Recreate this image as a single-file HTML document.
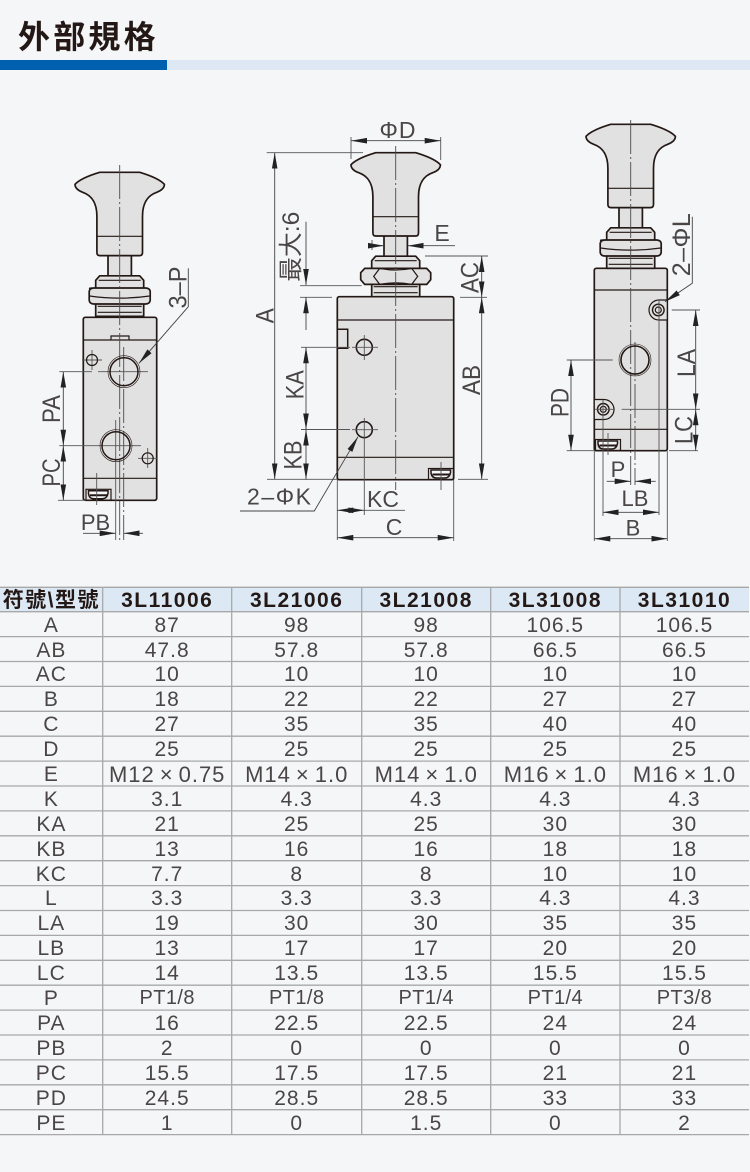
<!DOCTYPE html>
<html><head><meta charset="utf-8">
<style>
html,body{margin:0;padding:0;background:#f5f6f8}
#p{position:relative;width:750px;height:1172px;overflow:hidden;background:#f5f6f8;font-family:"Liberation Sans","Noto Sans CJK TC",sans-serif}
#t{position:absolute;left:18px;top:14px;font:700 32px/46px "Liberation Sans","Noto Sans CJK TC",sans-serif;letter-spacing:3.2px;color:#231815}
#b1{position:absolute;left:0;top:60px;width:166.5px;height:10px;background:#0060b0}
#b2{position:absolute;left:166.5px;top:60px;width:583.5px;height:10px;background:#dde8f4}
#hd{position:absolute;left:0;top:587.3px;width:749px;height:24.4px;background:#dce9f5}
#g{position:absolute;left:0;top:588.3px;width:749px;display:grid;grid-template-columns:102.7px 129px 130px 129px 129.3px 129px;grid-template-rows:24.4px repeat(21,24.9px);color:#4a4646;font-size:21px;letter-spacing:1px}
#g div{text-align:center;line-height:25px;white-space:nowrap}
#g .h{font-weight:700;font-size:21px;letter-spacing:1.5px;color:#231815;line-height:25px}
#g .c{font-size:20px;letter-spacing:.4px}
#g .m{font-size:22px;letter-spacing:1px}
#g i{font-style:normal;margin:0 5px}
svg{position:absolute;left:0;top:0}
svg text{font-family:"Liberation Sans","Noto Sans CJK TC",sans-serif;fill:#4a4646}
.o{fill:#e1e1e1;stroke:#231815;stroke-width:1.7;stroke-linejoin:round}
.k{fill:none;stroke:#231815;stroke-width:1.2}
.d{fill:none;stroke:#555;stroke-width:.9}
.e{fill:none;stroke:#4a4a4a;stroke-width:.9;stroke-dasharray:34 3 2 3}
.a{fill:none;stroke:#444;stroke-width:.9;marker-end:url(#ar);marker-start:url(#ar)}
.a1{fill:none;stroke:#444;stroke-width:.9;marker-end:url(#ar)}
</style></head><body><div id="p">
<div id="t">外部規格</div><div id="b1"></div><div id="b2"></div><div id="hd"></div>
<svg width="750" height="1172" viewBox="0 0 750 1172">
<defs>
<marker id="ar" markerUnits="userSpaceOnUse" markerWidth="17" markerHeight="8" refX="16" refY="4" orient="auto-start-reverse"><path d="M0,1.2L16,4L0,6.8Z" fill="#222"/></marker>
<g id="knob">
<rect class="o" x="-11.7" y="83" width="23.4" height="21"/>
<path class="o" d="M-20,0L20,0C30,3 40,7 44.7,12C44.7,16 41,18.500 37,20C30,22.500 22.800,28 22.800,44L22.800,80Q22.800,83.300 20,83.300L-20,83.300Q-22.800,83.300 -22.800,80L-22.800,44C-22.800,28 -30,22.500 -37,20C-41,18.500 -44.700,16 -44.700,12C-40,7 -30,3 -20,0Z"/>
<path class="k" d="M-22.8,64H22.8"/>
<path class="o" d="M-24,144V108L-20,103.5H20L24,108V144Z"/>
<path class="k" d="M-21,108H21M-22,134H22M-22,140H22"/>
</g>
<g id="nut"><path class="o" d="M-30,116Q-27,115.7 -26,115.7H26Q30,116 30.5,119V128Q30,131.7 26,131.7H-26Q-30,131.7 -30.5,128V119Q-30,116 -26,115.7Z"/><path class="k" d="M-30,123.7Q0,128 30,123.7" stroke-width=".6"/></g>
<g id="nut2"><path class="o" d="M-31,115.7H31L35,120V127L31,131.7H-31L-35,127V120Z"/><path class="k" d="M-16,115.7L-22,123.7L-16,131.7M16,115.7L22,123.7L16,131.7M-16,115.7Q0,119 16,115.7M-16,131.7Q0,128.5 16,131.7"/></g>
<g id="plug"><rect class="k" x="0" y="0" width="25" height="11" stroke-width="1.4"/><path d="M2.5,1.5H22V4Q21,9.5 16,9.5H8Q3,9.5 2.5,4Z" fill="#f5f6f8" stroke="#231815" stroke-width="1.5"/><path d="M4,5H21V7H4Z" fill="#231815"/></g>
</defs>

<!-- table lines -->
<path fill="none" stroke="#a8a8a8" stroke-width="1.3" d="M0 587.3H749M0 611.7H749M0 636.6H749M0 661.5H749M0 686.4H749M0 711.3H749M0 736.2H749M0 761.1H749M0 786H749M0 810.9H749M0 835.8H749M0 860.7H749M0 885.6H749M0 910.5H749M0 935.4H749M0 960.3H749M0 985.2H749M0 1010.1H749M0 1035H749M0 1059.9H749M0 1084.8H749M0 1109.7H749M0 1134.6H749M102.7 587V1135M231.7 587V1135M361.7 587V1135M490.7 587V1135M620 587V1135"/>

<!-- LEFT VIEW -->
<rect class="o" x="83.3" y="317.3" width="73.4" height="183" rx="2"/>
<path class="k" d="M83.3,340H156.7M83.3,478.3H156.7M111,340V336H129V340"/>
<use href="#knob" x="119.7" y="172.3"/>
<use href="#nut" x="119.7" y="172.3"/>
<use href="#plug" x="86" y="489.3"/>
<path class="e" d="M119.7,165V540"/>
<path class="e" d="M123.7,347V540"/>
<path class="d" d="M115.7,420V540M98,371.7H148M59.3,445.7H141M59.3,371.7H92M82,360H102M92,350V370M138,458.3H157M147.7,448V468M96.7,473V505M58,500.3H86"/>
<g class="k"><circle cx="124" cy="371.7" r="14" stroke-width="1.5"/><circle cx="124" cy="371.7" r="16" stroke-width=".6"/><circle cx="116" cy="445.7" r="14" stroke-width="1.5"/><circle cx="116" cy="445.7" r="16" stroke-width=".6"/><circle cx="92" cy="360" r="5.5"/><circle cx="147.7" cy="458.3" r="5.5"/></g>
<path class="a" d="M63.3,371.7V445.7"/><path class="a" d="M63.3,445.7V500.3"/>
<path class="a1" d="M83,533.3H115.7"/><path class="a1" d="M143,533.3H123.7"/>
<path class="a1" d="M188.3,268.3V306.7L139,363.3"/>
<text x="60" y="409" font-size="25" text-anchor="middle" textLength="28" lengthAdjust="spacingAndGlyphs" transform="rotate(-90 60 409)">PA</text>
<text x="60" y="472.500" font-size="25" text-anchor="middle" textLength="28" lengthAdjust="spacingAndGlyphs" transform="rotate(-90 60 472.500)">PC</text>
<text x="95.500" y="530" font-size="22" text-anchor="middle">PB</text>
<text x="186.700" y="287.500" font-size="25" text-anchor="middle" textLength="42" lengthAdjust="spacingAndGlyphs" transform="rotate(-90 186.700 287.500)">3–P</text>

<!-- MIDDLE VIEW -->
<rect class="o" x="337.300" y="296.700" width="116.400" height="183" rx="2"/>
<path class="k" d="M337.3,320H453.7M337.3,457.300H453.7"/>
<use href="#knob" x="395.700" y="152.700"/>
<use href="#nut2" x="395.700" y="152.700"/>
<path d="M337.300,329.300H347.700V348.300H337.300" fill="none" stroke="#231815" stroke-width="1.5"/>
<use href="#plug" x="428.500" y="468.500"/>
<path class="e" d="M395.700,146V490"/>
<g class="k"><circle cx="364.300" cy="347.300" r="8" stroke-width="1.6"/><circle cx="364.300" cy="429.700" r="8" stroke-width="1.6"/></g>
<path class="d" d="M351,137V159M440.700,137V160M266.700,152.700H363M267,479.300H337.300M372,240V250M425,256H488M460,297.300H487M458,479.300H488M300,285.700H361.700M300,297.300H332M301,347.300H350M301,429.500H350M352,347.300H378M364.300,335V360M352,429.700H378M364.300,418V515M337.300,480V540M453.700,480V541M441,462V490"/>
<path class="a" d="M351,140.700H440.700"/>
<path class="a" d="M274.700,152.700V479.300"/>
<path class="a1" d="M306,221.700V285"/><path class="a1" d="M306,330V297.300"/>
<path class="a" d="M306,347.300V429.500"/><path class="a" d="M306,429.500V479.300"/>
<path class="a" d="M481.700,256V297.300"/><path class="a" d="M481.700,297.300V479.300"/>
<path class="a1" d="M372,245.700H384"/><path class="a1" d="M455,245.700H407.700"/>
<path class="a1" d="M240,511H314.300L358,436.700"/>
<path class="a" d="M337.300,510.300H364.300"/><path class="d" d="M364.300,510.300H405"/>
<path class="a" d="M337.300,537.700H453.700"/>
<text x="398" y="138" font-size="23" text-anchor="middle" letter-spacing="1">ΦD</text>
<text x="442" y="241" font-size="23" text-anchor="middle">E</text>
<text x="273.300" y="315.700" font-size="25" text-anchor="middle" textLength="15" lengthAdjust="spacingAndGlyphs" transform="rotate(-90 273.300 315.700)">A</text>
<text x="299" y="246.700" font-size="24" text-anchor="middle" textLength="70" lengthAdjust="spacingAndGlyphs" transform="rotate(-90 299 246.700)">最大:6</text>
<text x="303.300" y="384.700" font-size="25" text-anchor="middle" textLength="29" lengthAdjust="spacingAndGlyphs" transform="rotate(-90 303.300 384.700)">KA</text>
<text x="301.700" y="455" font-size="25" text-anchor="middle" textLength="29" lengthAdjust="spacingAndGlyphs" transform="rotate(-90 301.700 455)">KB</text>
<text x="478.300" y="277.500" font-size="25" text-anchor="middle" textLength="31" lengthAdjust="spacingAndGlyphs" transform="rotate(-90 478.300 277.500)">AC</text>
<text x="480" y="380" font-size="25" text-anchor="middle" textLength="30" lengthAdjust="spacingAndGlyphs" transform="rotate(-90 480 380)">AB</text>
<text x="279" y="504.500" font-size="23" text-anchor="middle" textLength="64" lengthAdjust="spacing">2–ΦK</text>
<text x="383" y="507" font-size="23" text-anchor="middle">KC</text>
<text x="394" y="535" font-size="23" text-anchor="middle">C</text>

<!-- RIGHT VIEW -->
<rect class="o" x="594.300" y="268.300" width="73" height="182.400" rx="2"/>
<path class="k" d="M594.300,290H667.300M594.300,429.300H667.300"/>
<use href="#knob" x="630.700" y="124.300"/>
<use href="#nut" x="630.700" y="124.300"/>
<use href="#plug" x="595.500" y="439.500"/>
<path class="e" d="M630.700,120V485"/><path class="e" d="M635,342V485"/>
<path class="o" d="M659,300A10,10 0 0 0 659,320H667.300V300Z" style="stroke-width:1.2"/>
<path class="o" d="M594.300,399.500H604A10,10 0 0 1 604,419.500H594.300Z" style="stroke-width:1.2"/>
<g class="k"><circle cx="635" cy="360" r="14" stroke-width="1.6"/><circle cx="635" cy="360" r="16" stroke-width=".6"/><circle cx="658.300" cy="310" r="5.800" stroke-width="1.4"/><circle cx="658.300" cy="310" r="3"/><circle cx="603.300" cy="409.300" r="5.800" stroke-width="1.4"/><circle cx="603.300" cy="409.300" r="3"/></g>
<path class="d" d="M566.700,360H612.700M566.700,450.700H594M621.700,409.300H700M595,409.300H615M671.700,310H700M669,450.700H698M608,433V455M603,400V516M659,300V515M594.300,451V541M667.300,451V541"/>
<path class="a" d="M695.700,310V409.300"/><path class="a" d="M695.700,409.300V450.700"/>
<path class="a" d="M571,360V450.700"/>
<path class="a1" d="M692.300,216.700V283.300L665,301.700"/>
<path class="a1" d="M606.700,481.300H630.700"/><path class="a1" d="M655.700,481.300H635"/>
<path class="a" d="M602.700,512.300H659"/>
<path class="a" d="M594.300,538.700H667.300"/>
<text x="695" y="363" font-size="25" text-anchor="middle" textLength="28" lengthAdjust="spacingAndGlyphs" transform="rotate(-90 695 363)">LA</text>
<text x="692.700" y="430" font-size="25" text-anchor="middle" textLength="28" lengthAdjust="spacingAndGlyphs" transform="rotate(-90 692.700 430)">LC</text>
<text x="690" y="244.700" font-size="25" text-anchor="middle" textLength="63" lengthAdjust="spacing" transform="rotate(-90 690 244.700)">2–ΦL</text>
<text x="568.300" y="402.500" font-size="25" text-anchor="middle" textLength="29" lengthAdjust="spacingAndGlyphs" transform="rotate(-90 568.300 402.500)">PD</text>
<text x="618" y="477" font-size="22" text-anchor="middle">P</text>
<text x="635" y="506" font-size="22" text-anchor="middle">LB</text>
<text x="633" y="535.700" font-size="22" text-anchor="middle">B</text>
</svg>
<div id="g">
<div class="h">符號\型號</div><div class="h">3L11006</div><div class="h">3L21006</div><div class="h">3L21008</div><div class="h">3L31008</div><div class="h">3L31010</div>
<div>A</div><div>87</div><div>98</div><div>98</div><div>106.5</div><div>106.5</div>
<div>AB</div><div>47.8</div><div>57.8</div><div>57.8</div><div>66.5</div><div>66.5</div>
<div>AC</div><div>10</div><div>10</div><div>10</div><div>10</div><div>10</div>
<div>B</div><div>18</div><div>22</div><div>22</div><div>27</div><div>27</div>
<div>C</div><div>27</div><div>35</div><div>35</div><div>40</div><div>40</div>
<div>D</div><div>25</div><div>25</div><div>25</div><div>25</div><div>25</div>
<div>E</div><div class="m">M12<i>×</i>0.75</div><div class="m">M14<i>×</i>1.0</div><div class="m">M14<i>×</i>1.0</div><div class="m">M16<i>×</i>1.0</div><div class="m">M16<i>×</i>1.0</div>
<div>K</div><div>3.1</div><div>4.3</div><div>4.3</div><div>4.3</div><div>4.3</div>
<div>KA</div><div>21</div><div>25</div><div>25</div><div>30</div><div>30</div>
<div>KB</div><div>13</div><div>16</div><div>16</div><div>18</div><div>18</div>
<div>KC</div><div>7.7</div><div>8</div><div>8</div><div>10</div><div>10</div>
<div>L</div><div>3.3</div><div>3.3</div><div>3.3</div><div>4.3</div><div>4.3</div>
<div>LA</div><div>19</div><div>30</div><div>30</div><div>35</div><div>35</div>
<div>LB</div><div>13</div><div>17</div><div>17</div><div>20</div><div>20</div>
<div>LC</div><div>14</div><div>13.5</div><div>13.5</div><div>15.5</div><div>15.5</div>
<div>P</div><div class="c">PT1/8</div><div class="c">PT1/8</div><div class="c">PT1/4</div><div class="c">PT1/4</div><div class="c">PT3/8</div>
<div>PA</div><div>16</div><div>22.5</div><div>22.5</div><div>24</div><div>24</div>
<div>PB</div><div>2</div><div>0</div><div>0</div><div>0</div><div>0</div>
<div>PC</div><div>15.5</div><div>17.5</div><div>17.5</div><div>21</div><div>21</div>
<div>PD</div><div>24.5</div><div>28.5</div><div>28.5</div><div>33</div><div>33</div>
<div>PE</div><div>1</div><div>0</div><div>1.5</div><div>0</div><div>2</div>
</div>
</div></body></html>
